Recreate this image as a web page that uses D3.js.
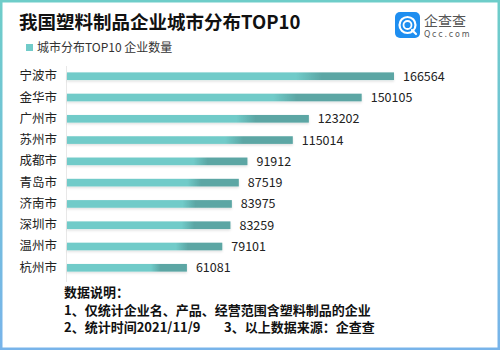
<!DOCTYPE html>
<html>
<head>
<meta charset="utf-8">
<script src="https://cdn.jsdelivr.net/npm/d3@7"></script>
<style>
  body { margin: 0; background: #fff; }
  svg { display: block; font-family: "Microsoft YaHei", "Noto Sans CJK SC", sans-serif; }
</style>
</head>
<body>
<div id="chart"></div>
<script>
const cities = ["宁波市", "金华市", "广州市", "苏州市", "成都市", "青岛市", "济南市", "深圳市", "温州市", "杭州市"]
const counts = [166564, 150105, 123202, 115014, 91912, 87519, 83975, 83259, 79101, 61081]
const notes = [
  "数据说明：",
  "1、仅统计企业名、产品、经营范围含塑料制品的企业",
  "2、统计时间2021/11/9        3、以上数据来源：企查查"
]

const width = 500
const height = 350
const margin = {top: 66, left: 67, bottom: 70}

const svg = d3.select("#chart")
  .append("svg")
  .attr("width", width)
  .attr("height", height)

const defs = svg.append("defs")
const border = defs.append("linearGradient")
  .attr("id", "border").attr("x1", 0).attr("y1", 0).attr("x2", 0).attr("y2", 1)
border.append("stop").attr("offset", "0%").attr("stop-color", "#6ecdc9")
border.append("stop").attr("offset", "100%").attr("stop-color", "#78b4ea")

const barFill = defs.append("linearGradient")
  .attr("id", "bar").attr("x1", 0).attr("y1", 0).attr("x2", 1).attr("y2", 0)
barFill.append("stop").attr("offset", "0%").attr("stop-color", "#71cbc9")
barFill.append("stop").attr("offset", "70%").attr("stop-color", "#71cbc9")
barFill.append("stop").attr("offset", "78%").attr("stop-color", "#5ba6a4")
barFill.append("stop").attr("offset", "100%").attr("stop-color", "#5ba6a4")

const shadow = defs.append("filter").attr("id", "shadow")
  .attr("x", "-5%").attr("y", "-50%").attr("width", "110%").attr("height", "250%")
shadow.append("feDropShadow")
  .attr("dx", 0).attr("dy", 1.5).attr("stdDeviation", 1)
  .attr("flood-color", "#000").attr("flood-opacity", 0.12)

// frame
svg.append("rect")
  .attr("x", 1.25).attr("y", 1.25)
  .attr("width", width - 2.5).attr("height", height - 2.5)
  .attr("fill", "#fff")
  .attr("stroke", "url(#border)")
  .attr("stroke-width", 2.5)

// title
svg.append("text")
  .attr("x", 19).attr("y", 29)
  .style("font-size", "18.5px")
  .style("font-weight", "bold")
  .attr("fill", "#111")
  .text("我国塑料制品企业城市分布TOP10")

// legend
svg.append("rect")
  .attr("x", 26).attr("y", 44).attr("width", 7).attr("height", 7)
  .attr("fill", "#71cbc9")
svg.append("text")
  .attr("x", 37).attr("y", 52)
  .style("font-size", "12px")
  .attr("fill", "#333")
  .text("城市分布TOP10 企业数量")

// logo
const logo = svg.append("g").attr("transform", "translate(395,12)")
logo.append("rect")
  .attr("width", 25).attr("height", 26).attr("rx", 5)
  .attr("fill", "#1e8ef0")
logo.append("circle")
  .attr("cx", 12.5).attr("cy", 13).attr("r", 8)
  .attr("fill", "none").attr("stroke", "#fff").attr("stroke-width", 2.2)
logo.append("circle")
  .attr("cx", 12.5).attr("cy", 13).attr("r", 4)
  .attr("fill", "none").attr("stroke", "#fff").attr("stroke-width", 1.8)
logo.append("line")
  .attr("x1", 17).attr("y1", 18).attr("x2", 21).attr("y2", 22)
  .attr("stroke", "#fff").attr("stroke-width", 2.2).attr("stroke-linecap", "round")
logo.append("text")
  .attr("x", 29).attr("y", 14)
  .style("font-size", "14px")
  .attr("fill", "#555")
  .text("企查查")
logo.append("text")
  .attr("x", 29).attr("y", 25)
  .style("font-size", "8px")
  .style("letter-spacing", "1.8px")
  .style("font-family", "'DejaVu Sans', sans-serif")
  .attr("fill", "#555")
  .text("Qcc.com")

// scales
const x = d3.scaleLinear()
  .domain([0, d3.max(counts)])
  .range([margin.left, 394])

const y = d3.scaleBand()
  .domain(cities)
  .range([margin.top, 278])
  .paddingInner(0.64)
  .paddingOuter(0.3)

// axis line
svg.append("line")
  .attr("x1", margin.left - 0.5).attr("x2", margin.left - 0.5)
  .attr("y1", margin.top).attr("y2", 282)
  .attr("stroke", "#e8e8e8")

const yAxis = svg.append("g")
  .attr("transform", `translate(${margin.left},0)`)
  .call(d3.axisLeft(y).tickSize(0).tickPadding(10))
yAxis.select(".domain").remove()
yAxis.selectAll("text")
  .style("font-size", "12.5px")
  .style("font-family", "'Microsoft YaHei', 'Noto Sans CJK SC', sans-serif")
  .attr("fill", "#222")

// bars
svg.append("g")
  .selectAll("rect")
  .data(cities)
  .join("rect")
  .attr("x", margin.left)
  .attr("y", d => y(d))
  .attr("height", y.bandwidth())
  .attr("width", (d, i) => x(counts[i]) - margin.left)
  .attr("fill", "url(#bar)")
  .attr("filter", "url(#shadow)")

// value labels
svg.append("g")
  .selectAll("text")
  .data(cities)
  .join("text")
  .attr("x", (d, i) => x(counts[i]) + 9)
  .attr("y", d => y(d) + y.bandwidth() / 2)
  .attr("dy", "0.36em")
  .style("font-size", "12.5px")
  .attr("fill", "#222")
  .text((d, i) => counts[i])

// notes
svg.append("g")
  .selectAll("text")
  .data(notes)
  .join("text")
  .attr("x", 64)
  .attr("y", (d, i) => 297 + i * 17.5)
  .style("font-size", "13px")
  .style("font-weight", "bold")
  .style("white-space", "pre")
  .attr("fill", "#111")
  .text(d => d)
</script>
</body>
</html>
